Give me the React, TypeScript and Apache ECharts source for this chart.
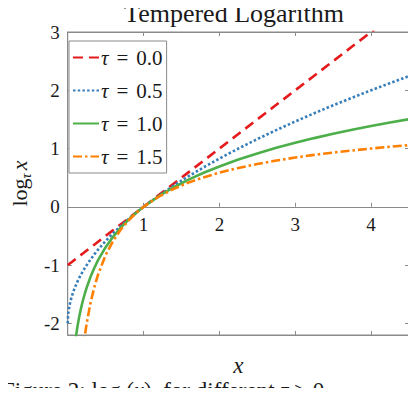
import React, { useEffect, useRef } from "react";
import * as echarts from "echarts";

// x sample positions
const xs = [0, 0.005, 0.01, 0.02, 0.035, 0.05, 0.075, 0.1, 0.125, 0.15, 0.175, 0.2, 0.225, 0.25, 0.3, 0.35, 0.4, 0.5, 0.6, 0.7, 0.8, 0.9, 1, 1.2, 1.4, 1.6, 1.8, 2, 2.25, 2.5, 2.75, 3, 3.25, 3.5, 3.75, 4, 4.25, 4.5];

const tau00 = [-1, -0.995, -0.99, -0.98, -0.965, -0.95, -0.925, -0.9, -0.875, -0.85, -0.825, -0.8, -0.775, -0.75, -0.7, -0.65, -0.6, -0.5, -0.4, -0.3, -0.2, -0.1, 0, 0.2, 0.4, 0.6, 0.8, 1, 1.25, 1.5, 1.75, 2, 2.25, 2.5, 2.75, 3, 3.25, 3.5];
const tau05 = [-2, -1.859, -1.8, -1.717, -1.626, -1.553, -1.452, -1.368, -1.293, -1.225, -1.163, -1.106, -1.051, -1.0, -0.905, -0.817, -0.735, -0.586, -0.451, -0.327, -0.211, -0.103, 0, 0.191, 0.366, 0.53, 0.683, 0.828, 1.0, 1.162, 1.317, 1.464, 1.606, 1.742, 1.873, 2.0, 2.123, 2.243];
const tau10 = [null, null, null, null, null, null, -2.59, -2.303, -2.079, -1.897, -1.743, -1.609, -1.492, -1.386, -1.204, -1.05, -0.916, -0.693, -0.511, -0.357, -0.223, -0.105, 0, 0.182, 0.336, 0.47, 0.588, 0.693, 0.811, 0.916, 1.012, 1.099, 1.179, 1.253, 1.322, 1.386, 1.447, 1.504];
const tau15 = [null, null, null, null, null, null, null, null, null, null, null, -2.472, -2.216, -2, -1.651, -1.381, -1.162, -0.828, -0.582, -0.39, -0.236, -0.108, 0, 0.174, 0.31, 0.419, 0.509, 0.586, 0.667, 0.735, 0.794, 0.845, 0.891, 0.931, 0.967, 1.0, 1.03, 1.057];

const tauLabels = ["0.0", "0.5", "1.0", "1.5"];
const xTicks = [1, 2, 3, 4];
const yTicks = [-2, -1, 0, 1, 2, 3];
const X_MIN = 0;
const X_MAX = 4.5;
const Y_MIN = -2.2;
const Y_MAX = 3;

const SERIF = "Liberation Serif, DejaVu Serif, serif";
const GRAY = "#8a8a8a";
const INK = "#1a1a1a";

const GRID = { left: 60, top: 32, right: 7, bottom: 61 };
const H = 396;
const W = 416;

export default function App() {
  const ref = useRef<HTMLDivElement>(null);
  useEffect(() => {
    if (!ref.current) return;
    const chart = echarts.init(ref.current, null, { renderer: "svg" });
    const seriesData = [tau00, tau05, tau10, tau15];
    const colors = ["#e41a1c", "#377eb8", "#4daf4a", "#ff7f00"];
    const dashes: any[] = [[10, 6], [2.5, 2.2], "solid", [9, 3, 2.5, 3]];
    const names = tauLabels.map((t) => "τ = " + t);

    const series = seriesData.map((ys, i) => ({
      name: names[i],
      type: "line",
      xAxisIndex: 0,
      yAxisIndex: 0,
      symbol: "none",
      clip: true,
      smooth: false,
      data: xs.map((x, j) => [x, ys[j]]).filter((p) => p[1] !== null),
      lineStyle: { color: colors[i], width: 2.6, type: dashes[i] },
      itemStyle: { color: colors[i] },
    }));

    // place the labelled x axis along y = 0 (layout offset from the grid bottom)
    const plotH = H - GRID.top - GRID.bottom;
    const zeroOffset = -((0 - Y_MIN) / (Y_MAX - Y_MIN)) * plotH;

    const baseX = {
      type: "value",
      min: X_MIN,
      max: X_MAX,
      splitLine: { show: false },
      axisLine: { show: true, onZero: false, lineStyle: { color: GRAY, width: 1 } },
      axisTick: { show: true, inside: true, length: 4, lineStyle: { color: GRAY }, customValues: xTicks },
    };
    const baseY = {
      type: "value",
      min: Y_MIN,
      max: Y_MAX,
      splitLine: { show: false },
      axisLine: { show: true, onZero: false, lineStyle: { color: GRAY, width: 1 } },
      axisTick: { show: true, inside: true, length: 4, lineStyle: { color: GRAY }, customValues: yTicks },
    };

    chart.setOption({
      animation: false,
      grid: { ...GRID, show: true, borderColor: GRAY, borderWidth: 1, backgroundColor: "#fff" },
      xAxis: [
        {
          ...baseX,
          position: "bottom",
          offset: zeroOffset,
          axisLabel: { show: true, customValues: xTicks, fontFamily: SERIF, fontSize: 19, color: INK, margin: 8 },
        },
        { ...baseX, position: "top", axisLabel: { show: false } },
        {
          ...baseX,
          position: "bottom",
          axisLabel: { show: false },
          name: "x",
          nameLocation: "middle",
          nameGap: 19,
          nameTextStyle: { fontFamily: SERIF, fontStyle: "italic", fontSize: 23, color: INK },
        },
      ],
      yAxis: [
        {
          ...baseY,
          position: "left",
          axisLabel: { show: true, customValues: yTicks, fontFamily: SERIF, fontSize: 19, color: INK, margin: 8 },
          name: "{a|log}{s|τ} {i|x}",
          nameLocation: "middle",
          nameGap: 30,
          nameTextStyle: {
            rich: {
              a: { fontFamily: SERIF, fontSize: 22, color: INK, lineHeight: 28, verticalAlign: "middle" },
              s: { fontFamily: SERIF, fontStyle: "italic", fontSize: 14, color: INK, lineHeight: 28, verticalAlign: "bottom", padding: [10, 0, 0, 0] },
              i: { fontFamily: SERIF, fontStyle: "italic", fontSize: 22, color: INK, lineHeight: 28, verticalAlign: "middle" },
            },
          },
        },
        { ...baseY, position: "right", axisLabel: { show: false } },
      ],
      legend: {
        orient: "vertical",
        left: 69,
        top: 41,
        itemWidth: 26,
        itemHeight: 14,
        itemGap: 12,
        padding: [6, 4, 6, 3],
        borderColor: GRAY,
        borderWidth: 1,
        backgroundColor: "#fff",
        itemStyle: { opacity: 0 },
        data: names,
        formatter: (n: string) => "{t|τ}{e|=}{r|" + n.slice(4) + "}",
        textStyle: {
          padding: [0, 0, 0, -3],
          rich: {
            t: { fontFamily: SERIF, fontStyle: "italic", fontSize: 21, color: INK },
            e: { fontFamily: SERIF, fontSize: 21, color: INK, padding: [0, 8, 0, 8] },
            r: { fontFamily: SERIF, fontSize: 21, color: INK },
          },
        },
      },
      graphic: [
        {
          type: "text",
          x: 234,
          y: 13,
          style: { text: "Tempered Logarithm", font: "26px " + SERIF, fill: INK, align: "center", verticalAlign: "middle" },
        },
        {
          type: "text",
          x: 2,
          y: 379,
          style: {
            text: "{a|Figure 2: log}{s|τ}{a|(}{i|x}{a|)  for different }{i|τ}{a| ≥ 0}",
            verticalAlign: "top",
            align: "left",
            rich: {
              a: { fontFamily: SERIF, fontSize: 23, fill: INK, lineHeight: 23 } as any,
              s: { fontFamily: SERIF, fontStyle: "italic", fontSize: 15, fill: INK, lineHeight: 23, verticalAlign: "bottom" } as any,
              i: { fontFamily: SERIF, fontStyle: "italic", fontSize: 23, fill: INK, lineHeight: 23 } as any,
            },
          },
        },
      ],
      series,
    });
    return () => chart.dispose();
  }, []);
  return <div ref={ref} style={{ width: W, height: H, margin: -8 }} />;
}
